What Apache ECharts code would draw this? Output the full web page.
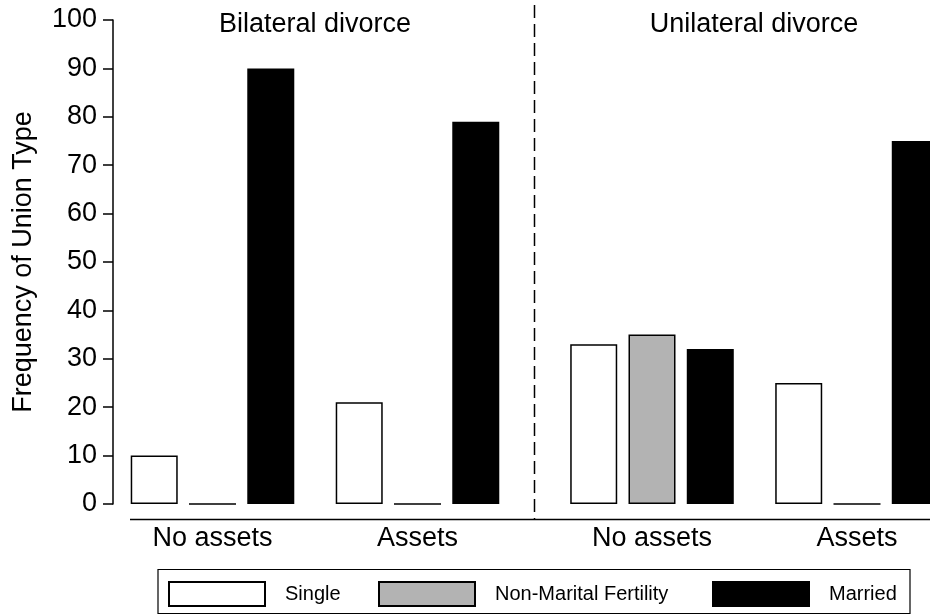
<!DOCTYPE html>
<html>
<head>
<meta charset="utf-8">
<script src="https://cdn.jsdelivr.net/npm/echarts@6/dist/echarts.min.js"></script>
<style>
  html, body { margin: 0; padding: 0; background: #fff; }
  #chart { width: 930px; height: 616px; }
</style>
</head>
<body>
<div id="chart"></div>
<script>
// ---- Data ----
const categories = ['No assets', 'Assets'];
const panelTitles = ['Bilateral divorce', 'Unilateral divorce'];
const seriesNames = ['Single', 'Non-Marital Fertility', 'Married'];
const yTicks = { min: 0, max: 100, interval: 10 };
const yAxisTitle = 'Frequency of Union Type';

const singleBilateral = [10, 21];
const nmfBilateral = [0, 0];
const marriedBilateral = [90, 79];

const singleUnilateral = [33, 25];
const nmfUnilateral = [35, 0];
const marriedUnilateral = [32, 75];

// ---- Styles ----
const FONT = '"Liberation Sans", Arial, Helvetica, sans-serif';
const styles = {
  'Single': { color: '#ffffff', borderColor: '#000000', borderWidth: 1.5 },
  'Non-Marital Fertility': { color: '#b3b3b3', borderColor: '#000000', borderWidth: 1.5 },
  'Married': { color: '#000000', borderColor: '#000000', borderWidth: 1.5 }
};

const panelData = [
  [singleBilateral, nmfBilateral, marriedBilateral],
  [singleUnilateral, nmfUnilateral, marriedUnilateral]
];

const series = [];
panelData.forEach((arrs, p) => {
  arrs.forEach((vals, i) => {
    series.push({
      name: seriesNames[i],
      type: 'bar',
      xAxisIndex: p,
      yAxisIndex: p,
      data: vals,
      barWidth: 47,
      barGap: '24%',
      clip: false,
      itemStyle: styles[seriesNames[i]],
      emphasis: { disabled: true },
      silent: true
    });
  });
});

const chart = echarts.init(document.getElementById('chart'), null, { renderer: 'canvas' });

const legendLefts = [168, 378, 712];
const legends = seriesNames.map((n, i) => ({
  data: [n],
  left: legendLefts[i],
  top: 581,
  padding: 0,
  icon: 'rect',
  itemWidth: 96,
  itemHeight: 24,
  selectedMode: false,
  textStyle: { fontFamily: FONT, fontSize: 20, color: '#000', padding: [0, 0, 0, 15] }
}));

const xAxisCommon = {
  type: 'category',
  data: categories,
  axisLine: { show: false },
  axisTick: { show: false },
  axisLabel: { fontFamily: FONT, fontSize: 27, color: '#000', margin: 21 },
  splitLine: { show: false }
};

const option = {
  animation: false,
  backgroundColor: '#ffffff',
  title: [
    { text: panelTitles[0], left: 315, top: 11, padding: 0, textAlign: 'center',
      textStyle: { fontFamily: FONT, fontSize: 27, fontWeight: 'normal', color: '#000' } },
    { text: panelTitles[1], left: 754, top: 11, padding: 0, textAlign: 'center',
      textStyle: { fontFamily: FONT, fontSize: 27, fontWeight: 'normal', color: '#000' } }
  ],
  legend: legends,
  grid: [
    // left panel: two bands of 205px
    { left: 110, top: 20, width: 410, height: 484, containLabel: false },
    // right panel: category points at the edges (band centres), same spacing
    { left: 652, top: 20, width: 205, height: 484, containLabel: false }
  ],
  xAxis: [
    Object.assign({ gridIndex: 0, boundaryGap: true }, xAxisCommon),
    Object.assign({ gridIndex: 1, boundaryGap: false }, xAxisCommon)
  ],
  yAxis: [
    {
      type: 'value', gridIndex: 0,
      min: yTicks.min, max: yTicks.max, interval: yTicks.interval,
      offset: -3,
      name: yAxisTitle, nameLocation: 'middle', nameRotate: 90, nameGap: 76,
      nameTextStyle: { fontFamily: FONT, fontSize: 27, color: '#000' },
      axisLine: { show: true, lineStyle: { color: '#000', width: 1.5 } },
      axisTick: { show: true, length: 10, lineStyle: { color: '#000', width: 1.5 } },
      axisLabel: { fontFamily: FONT, fontSize: 27, color: '#000', margin: 16 },
      splitLine: { show: false }
    },
    {
      type: 'value', gridIndex: 1,
      min: yTicks.min, max: yTicks.max, interval: yTicks.interval,
      show: false,
      splitLine: { show: false }
    }
  ],
  graphic: [
    // horizontal baseline under the bars
    { type: 'line', silent: true, shape: { x1: 130, y1: 519.5, x2: 930, y2: 519.5 },
      style: { stroke: '#000', lineWidth: 1.5 } },
    // dashed panel divider
    { type: 'line', silent: true, shape: { x1: 534.5, y1: 5, x2: 534.5, y2: 519 },
      style: { stroke: '#000', lineWidth: 1.5, lineDash: [13, 6] } },
    // legend frame
    { type: 'rect', silent: true, shape: { x: 158, y: 569.5, width: 752, height: 44 },
      style: { fill: 'none', stroke: '#000', lineWidth: 1.2 }, z: -1 }
  ],
  series: series
};

chart.setOption(option);
</script>
</body>
</html>
